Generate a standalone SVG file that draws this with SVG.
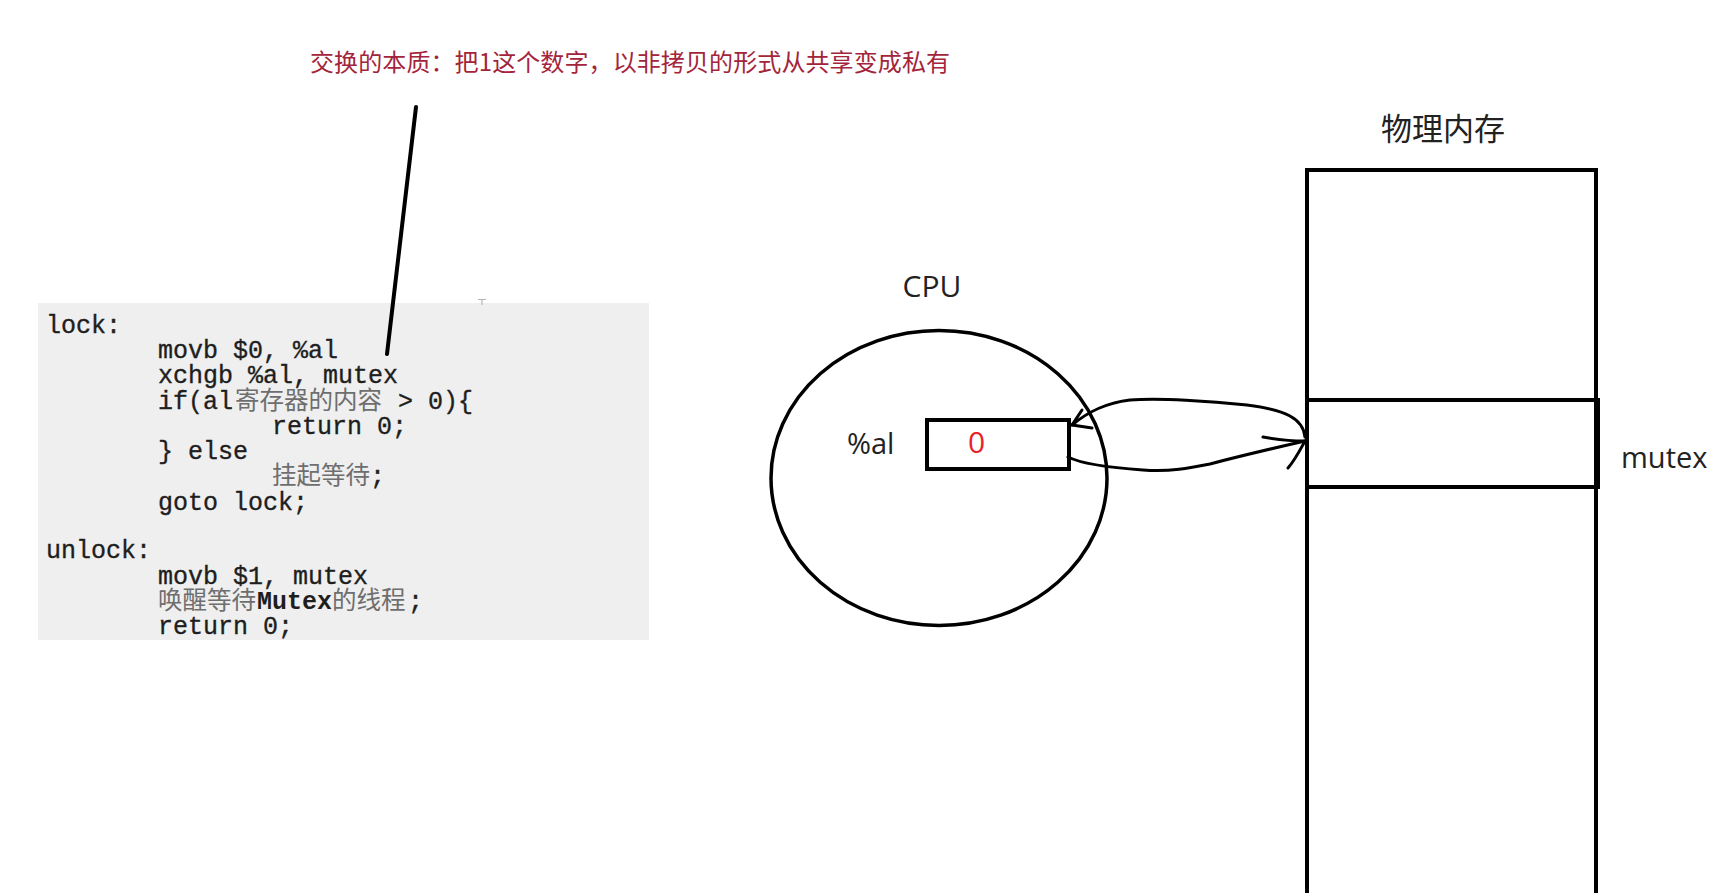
<svg xmlns="http://www.w3.org/2000/svg" width="1726" height="893" viewBox="0 0 1726 893">
<style>
.code{font-family:"Liberation Mono","Noto Sans CJK SC",monospace;font-size:25px;fill:#1e1e1e;stroke:#1e1e1e;stroke-width:0.35px}
.cjk{font-family:"Noto Sans CJK SC","Noto Sans CJK JP",sans-serif;font-size:24.5px;fill:#6e6e6e;stroke:none}
.lbl{font-family:"Open Sans","Noto Sans",sans-serif;fill:#222}
.ln{fill:none;stroke:#000;stroke-linecap:round;stroke-linejoin:round}
</style>
<rect width="1726" height="893" fill="#fff"/>
<g id="note">
<text x="310" y="71" font-family="'Noto Sans CJK SC','Noto Sans CJK JP',sans-serif" font-size="24" fill="#a3253b" textLength="640" lengthAdjust="spacing">交换的本质：把1这个数字，以非拷贝的形式从共享变成私有</text>
</g>
<g id="code">
<rect x="38" y="303" width="611" height="337" fill="#efefef"/>
<path d="M478,299.5 H486 M482,299.5 V305" stroke="#b5b5b5" stroke-width="1.2" fill="none"/>
<text class="code" xml:space="preserve"><tspan x="46" y="333">lock:</tspan><tspan x="158" y="358">movb $0, %al</tspan><tspan x="158" y="383">xchgb %al, mutex</tspan><tspan x="158" y="409">if(al</tspan><tspan class="cjk" x="235" y="409">寄存器的内容</tspan><tspan x="383" y="409"> &gt; 0){</tspan><tspan x="272" y="434">return 0;</tspan><tspan x="158" y="459">} else</tspan><tspan class="cjk" x="272" y="484">挂起等待</tspan><tspan x="370" y="484">;</tspan><tspan x="158" y="510">goto lock;</tspan><tspan x="46" y="558">unlock:</tspan><tspan x="158" y="584">movb $1, mutex</tspan><tspan class="cjk" x="158" y="609">唤醒等待</tspan><tspan x="257" y="609" font-weight="bold" stroke-width="0">Mutex</tspan><tspan class="cjk" x="332" y="609">的线程</tspan><tspan x="408" y="609">;</tspan><tspan x="158" y="634">return 0;</tspan></text>
</g>
<g id="cpu">
<text class="lbl" x="932" y="297" font-size="30" text-anchor="middle">CPU</text>
<ellipse cx="939" cy="478" rx="168" ry="147.5" fill="none" stroke="#000" stroke-width="3.5"/>
</g>
<g id="al-register">
<text class="lbl" x="847" y="454" font-size="29">%al</text>
<rect x="927" y="420" width="142" height="49" fill="none" stroke="#000" stroke-width="4"/>
<text x="976.5" y="453" font-family="'Open Sans','Noto Sans',sans-serif" font-size="30" fill="#e8222a" text-anchor="middle">0</text>
</g>
<g id="memory">
<text x="1443" y="140" font-family="'Noto Sans CJK SC','Noto Sans CJK JP',sans-serif" font-size="31" fill="#222" text-anchor="middle">物理内存</text>
<rect x="1307" y="170" width="289" height="800" fill="none" stroke="#000" stroke-width="4"/>
</g>
<g id="mutex">
<rect x="1307" y="400" width="291" height="87" fill="none" stroke="#000" stroke-width="4"/>
<text class="lbl" x="1621" y="468" font-size="29">mutex</text>
</g>
<g id="connectors">
<path class="ln" stroke-width="4" d="M416,107 L387,354"/>
<path class="ln" stroke-width="3" d="M1305,437 C1303,418 1285,410 1247,405 C1210,401 1160,398 1130,400 C1105,403 1088,412 1072,425"/>
<path class="ln" stroke-width="3" d="M1072,425 L1082,410 M1072,425 L1092,428"/>
<path class="ln" stroke-width="3" d="M1068,457 C1080,463 1100,467 1143,470 C1170,472 1190,468 1210,464 C1240,456 1270,449 1305,441"/>
<path class="ln" stroke-width="3" d="M1263,437 C1280,440 1295,441 1305,441 C1300,450 1295,460 1288,468"/>
</g>
</svg>
